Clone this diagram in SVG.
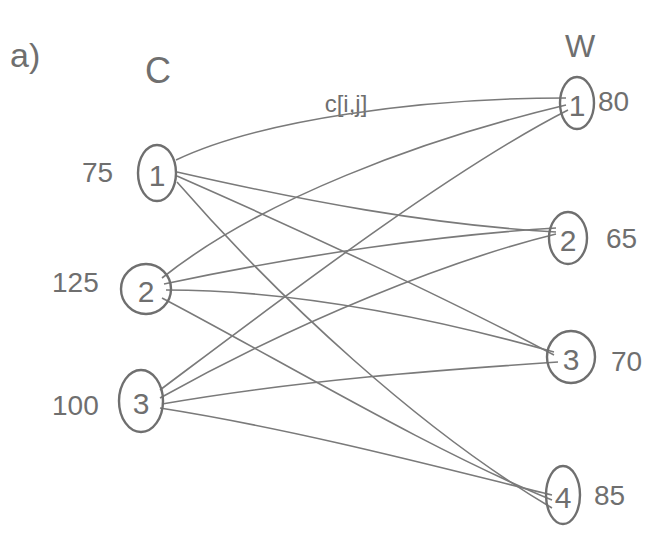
<svg xmlns="http://www.w3.org/2000/svg" width="654" height="537" viewBox="0 0 654 537">
<style>
.n{fill:none;stroke:#6f6f6f;stroke-width:2.4}
.e{fill:none;stroke:#7a7a7a;stroke-width:1.6}
text{font-family:"Liberation Sans","DejaVu Sans",sans-serif;fill:#6f6f6f}
.d{font-size:30px;text-anchor:middle;dominant-baseline:central}
.v{font-size:28px;dominant-baseline:central}
</style>
<rect width="654" height="537" fill="#fff"/>
<text x="10" y="55" font-size="34" dominant-baseline="central">a)</text>
<text x="158" y="70" font-size="36" text-anchor="middle" dominant-baseline="central">C</text>
<text x="580" y="46" font-size="32" text-anchor="middle" dominant-baseline="central">W</text>
<text x="346" y="103" font-size="24" text-anchor="middle" dominant-baseline="central">c[i,j]</text>
<g id="edges">
<path class="e" d="M176,160 C260,120 420,98 566,98"/>
<path class="e" d="M177,172 C300,200 430,225 556,232"/>
<path class="e" d="M177,176 C300,230 450,300 554,355"/>
<path class="e" d="M177,182 C280,300 420,430 552,508"/>
<path class="e" d="M162,278 C260,200 420,140 566,105"/>
<path class="e" d="M164,284 C300,255 440,235 556,228"/>
<path class="e" d="M166,290 C300,290 440,320 554,352"/>
<path class="e" d="M162,298 C280,360 430,450 552,500"/>
<path class="e" d="M160,390 C280,300 450,170 568,110"/>
<path class="e" d="M160,398 C300,320 450,260 556,234"/>
<path class="e" d="M162,404 C300,380 440,370 558,362"/>
<path class="e" d="M160,408 C300,430 450,470 552,495"/>
</g>
<g id="C1"><ellipse class="n" cx="157" cy="173" rx="19" ry="28"/><text class="d" x="157" y="175">1</text><text class="v" x="82" y="172">75</text></g>
<g id="C2"><ellipse class="n" cx="146" cy="289" rx="25" ry="25"/><text class="d" x="146" y="291">2</text><text class="v" x="52" y="282">125</text></g>
<g id="C3"><ellipse class="n" cx="141" cy="401" rx="22" ry="31"/><text class="d" x="141" y="403">3</text><text class="v" x="52" y="405">100</text></g>
<g id="W1"><ellipse class="n" cx="577" cy="103" rx="17" ry="26"/><text class="d" x="577" y="105">1</text><text class="v" x="598" y="101">80</text></g>
<g id="W2"><ellipse class="n" cx="568" cy="238" rx="19" ry="26"/><text class="d" x="568" y="240">2</text><text class="v" x="606" y="238">65</text></g>
<g id="W3"><ellipse class="n" cx="571" cy="357" rx="24" ry="26"/><text class="d" x="571" y="359">3</text><text class="v" x="611" y="361">70</text></g>
<g id="W4"><ellipse class="n" cx="563" cy="495" rx="17" ry="29"/><text class="d" x="563" y="497">4</text><text class="v" x="594" y="495">85</text></g>
</svg>
